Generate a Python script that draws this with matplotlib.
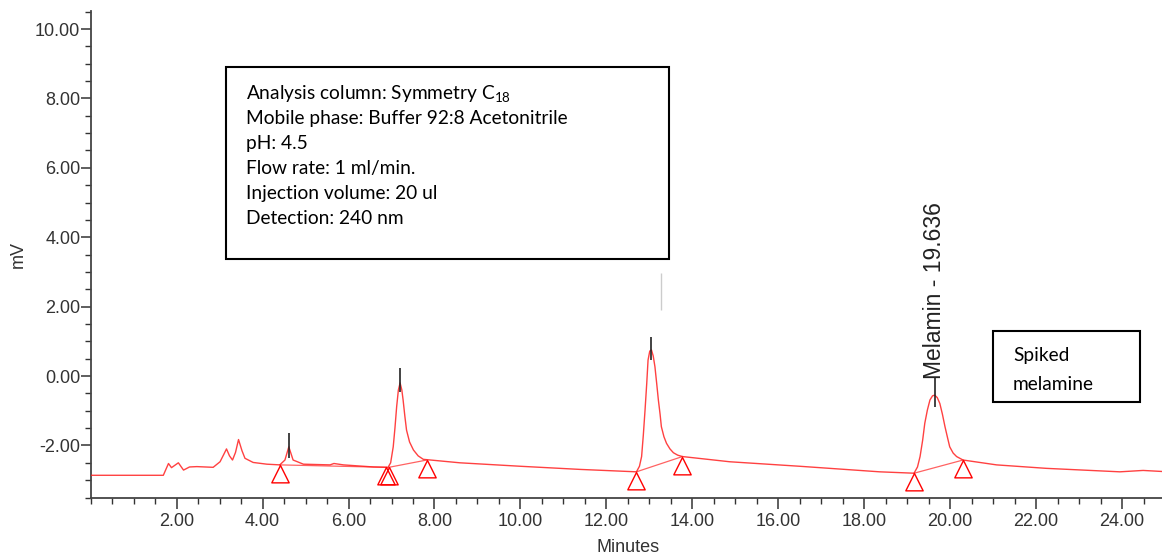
import matplotlib
matplotlib.use("Agg")
import matplotlib.pyplot as plt
from matplotlib.patches import Rectangle
from matplotlib.path import Path
from matplotlib.ticker import MultipleLocator, FormatStrFormatter

# chromatogram trace (minutes, mV)
time_min = [0.00, 1.69, 1.81, 1.88, 2.04, 2.16, 2.30, 2.47, 2.85, 3.01,
            3.10, 3.16, 3.23, 3.30, 3.37, 3.44, 3.52, 3.59, 3.78, 4.10,
            4.40, 4.52, 4.61, 4.71, 4.95, 5.57, 5.66, 5.88, 6.58, 6.92,
            6.98, 7.04, 7.08, 7.12, 7.16, 7.20, 7.24, 7.27, 7.31, 7.35,
            7.42, 7.51, 7.62, 7.74, 8.59, 10.00, 11.38,
            12.70, 12.77, 12.82, 12.86, 12.90, 12.94, 12.97, 13.01, 13.05, 13.09,
            13.13, 13.17, 13.21, 13.25, 13.28, 13.34, 13.40, 13.48, 13.56, 13.66,
            13.77, 14.87, 16.50, 18.36,
            19.16, 19.24, 19.30, 19.36, 19.41, 19.47, 19.53, 19.59, 19.64, 19.70,
            19.76, 19.82, 19.88, 19.94, 19.99, 20.07, 20.15, 20.30,
            21.08, 22.24, 23.95, 24.49, 24.93]
signal_mv = [-2.86, -2.86, -2.52, -2.64, -2.50, -2.71, -2.62, -2.61, -2.63, -2.47,
             -2.25, -2.10, -2.30, -2.42, -2.20, -1.83, -2.15, -2.37, -2.49, -2.54,
             -2.56, -2.42, -2.04, -2.42, -2.54, -2.56, -2.52, -2.56, -2.62, -2.63,
             -2.50, -2.04, -1.50, -0.88, -0.40, -0.20, -0.40, -0.69, -1.15, -1.56,
             -1.90, -2.13, -2.30, -2.40, -2.50, -2.60, -2.69,
             -2.76, -2.60, -2.32, -1.70, -0.98, -0.20, 0.46, 0.72, 0.75, 0.58,
             0.27, -0.20, -0.69, -1.10, -1.46, -1.75, -1.94, -2.10, -2.21, -2.28,
             -2.32, -2.47, -2.60, -2.76,
             -2.80, -2.62, -2.32, -1.85, -1.36, -0.98, -0.69, -0.57, -0.55, -0.62,
             -0.79, -1.10, -1.46, -1.78, -2.04, -2.22, -2.32, -2.42,
             -2.56, -2.66, -2.76, -2.72, -2.75]

# integration baselines: start / end of each peak
base_start_t = [4.40, 6.94, 12.70, 19.16]
base_start_v = [-2.56, -2.63, -2.76, -2.80]
base_end_t = [6.88, 7.82, 13.77, 20.30]
base_end_v = [-2.63, -2.42, -2.32, -2.42]

# apex markers (black ticks)
apex_t = [4.61, 7.20, 13.05, 19.64]
apex_top = [-1.65, 0.23, 1.12, -0.05]
apex_bottom = [-2.37, -0.46, 0.46, -0.88]

peak_label = "Melamin - 19.636"
info_lines = ["Analysis column: Symmetry C$_{18}$",
              "Mobile phase: Buffer 92:8 Acetonitrile",
              "pH: 4.5",
              "Flow rate: 1 ml/min.",
              "Injection volume: 20 ul",
              "Detection: 240 nm"]
note_lines = ["Spiked", "melamine"]

plt.rcParams["mathtext.default"] = "regular"

W, H = 1162, 558
fig = plt.figure(figsize=(W / 100, H / 100), dpi=100)
ax = fig.add_axes([90.7 / W, 60.5 / H, 1 - 90.7 / W, 486.5 / H])

red = "#ff2020"
ax.plot(time_min, signal_mv, color=red, lw=1.0, alpha=0.85, zorder=3)

for t0, v0, t1, v1 in zip(base_start_t, base_start_v, base_end_t, base_end_v):
    ax.plot([t0, t1], [v0, v1], color=red, lw=0.9, alpha=0.7, zorder=2)

# open triangles hanging below the baseline points
tri = Path([(0, 0), (-1, -2), (1, -2), (0, 0)],
           [Path.MOVETO, Path.LINETO, Path.LINETO, Path.CLOSEPOLY])
ax.plot(base_start_t + base_end_t, base_start_v + base_end_v, ls="none",
        marker=tri, markersize=25, markerfacecolor="none",
        markeredgecolor="#ff0000", markeredgewidth=1.0, zorder=4)

ax.vlines(apex_t, apex_bottom, apex_top, color="#222222", lw=1.2, zorder=5)
ax.vlines([13.28], [1.90], [2.97], color="#cccccc", lw=1.0)

ax.text(19.64, -0.08, peak_label, rotation=90, ha="center", va="bottom",
        fontsize=16.5, family="Liberation Sans", color="#222222")

ax.set_xlim(0, 24.93)
ax.set_ylim(-3.5, 10.52)
ax.xaxis.set_minor_locator(MultipleLocator(0.5))
ax.yaxis.set_major_locator(MultipleLocator(2))
ax.yaxis.set_minor_locator(MultipleLocator(0.5))
ax.xaxis.set_major_formatter(FormatStrFormatter("%.2f"))
ax.yaxis.set_major_formatter(FormatStrFormatter("%.2f"))
ax.set_xticks([t for t in range(2, 25, 2)])

for s in ["top", "right"]:
    ax.spines[s].set_visible(False)
for s in ["left", "bottom"]:
    ax.spines[s].set_color("#444444")
    ax.spines[s].set_linewidth(1.3)

ax.tick_params(which="major", width=1.1, color="#333333",
               labelsize=13, labelcolor="#333333")
ax.tick_params(axis="y", which="major", length=7, pad=0.5)
ax.tick_params(axis="x", which="major", length=8, pad=3)
ax.tick_params(which="minor", length=4.5, width=1.0, color="#333333")
for lab in ax.get_xticklabels() + ax.get_yticklabels():
    lab.set_family("Liberation Sans")

fig.text(18 / W, 1 - 255 / H, "mV", rotation=90, ha="center", va="center",
         fontsize=13, family="Liberation Sans", color="#333333")
fig.text(628 / W, 1 - 547 / H, "Minutes", ha="center", va="center",
         fontsize=13, family="Liberation Sans", color="#333333")

# info box
fig.patches.append(Rectangle((226 / W, 1 - 259 / H), 443 / W, 192 / H,
                             transform=fig.transFigure, fill=False,
                             edgecolor="black", lw=1.5))
for i, line in enumerate(info_lines):
    fig.text(246.5 / W, 1 - (93.5 + 25 * i) / H, line, ha="left", va="center",
             fontsize=13.8, family="Lato", color="black")

fig.patches.append(Rectangle((993 / W, 1 - 402 / H), 147 / W, 71 / H,
                             transform=fig.transFigure, fill=False,
                             edgecolor="black", lw=1.5))
for i, line in enumerate(note_lines):
    fig.text(1013 / W, 1 - (355 + 30 * i) / H, line, ha="left", va="center",
             fontsize=13.8, family="Lato", color="black")

fig.savefig("out.png", dpi=100)
